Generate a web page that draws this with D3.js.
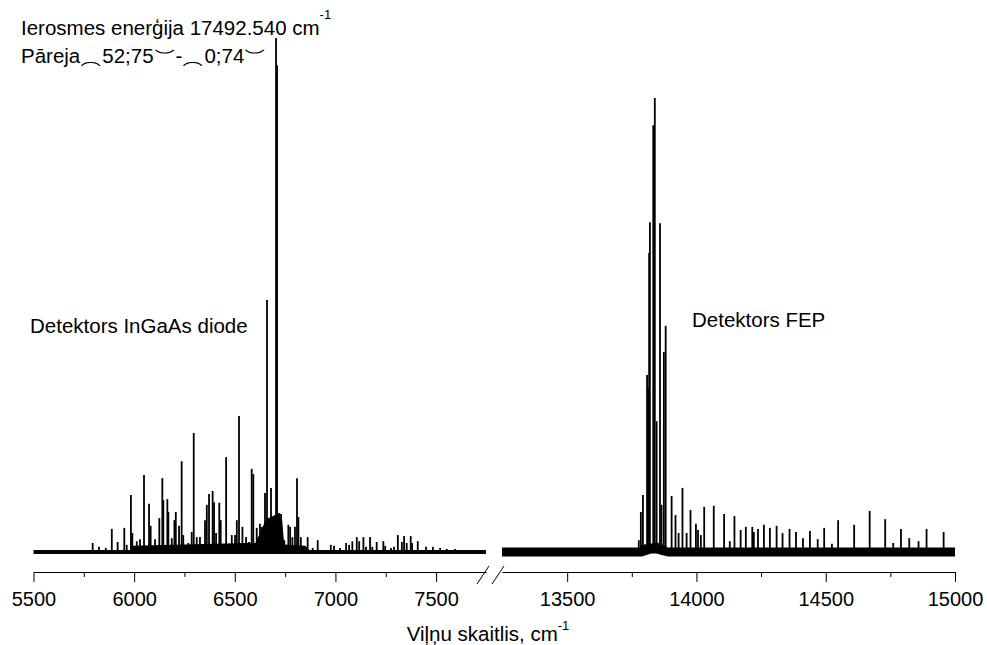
<!DOCTYPE html>
<html>
<head>
<meta charset="utf-8">
<script src="https://cdn.jsdelivr.net/npm/d3@7"></script>
<style>
  body { margin: 0; background: #fff; }
  text { font-family: "Liberation Sans", Arial, sans-serif; fill: #000; }
</style>
</head>
<body>
<div id="chart"></div>
<script>
// broken-axis spectrum, D3 v7

// === data (wavenumber cm-1, intensity arb. units) ===
const leftPeaks = [
  [5794, 1.75], [5825, 1.0], [5859, 0.8], [5889, 4.5], [5918, 1.95], [5951, 4.7], [5963, 1.4],
  [5984, 11.1], [5991, 3.7], [6013, 2.1], [6029, 2.5], [6049, 15.0], [6074, 9.4], [6082, 5.1],
  [6104, 2.5], [6125, 6.6], [6140, 14.4], [6145, 10.1], [6165, 10.3], [6170, 7.8], [6187, 2.7],
  [6200, 6.2], [6207, 7.8], [6223, 5.1], [6236, 17.7], [6244, 3.3], [6269, 1.75], [6286, 3.9],
  [6296, 23.2], [6311, 2.9], [6327, 2.9], [6352, 6.2], [6361, 9.2], [6372, 11.3], [6390, 11.9],
  [6397, 9.7], [6407, 3.7], [6423, 9.6], [6430, 6.2], [6457, 18.5], [6485, 3.3], [6501, 3.3],
  [6510, 6.2], [6521, 26.5], [6538, 4.9], [6556, 2.9], [6571, 1.95], [6584, 16.2], [6592, 15.2],
  [6609, 4.7], [6625, 5.5], [6634, 4.9], [6650, 11.5], [6660, 49.1], [6672, 6.2], [6680, 12.5],
  [6692, 5.8], [6705, 100.2], [6710, 94.9], [6713, 6.8], [6721, 7.6], [6730, 7.4], [6746, 2.3],
  [6766, 5.3], [6775, 4.9], [6786, 2.9], [6799, 4.9], [6809, 14.4], [6816, 6.8], [6828, 2.9],
  [6841, 1.0], [6862, 2.9], [6887, 0.8], [6912, 2.3], [6977, 1.4], [6993, 1.2], [7023, 0.8],
  [7053, 1.75], [7068, 1.4], [7084, 2.1], [7106, 2.9], [7118, 2.1], [7139, 2.9], [7152, 1.0],
  [7172, 2.9], [7183, 1.0], [7205, 1.95], [7238, 2.1], [7247, 1.2], [7276, 0.8], [7291, 1.0],
  [7310, 3.3], [7330, 1.95], [7341, 3.1], [7354, 1.75], [7374, 3.1], [7381, 1.75], [7409, 2.1],
  [7450, 1.0], [7484, 1.0], [7520, 0.8], [7553, 0.6], [7594, 0.6], [7634, 0.4]
];

const rightPeaks = [
  [13777, 2.3], [13785, 7.8], [13793, 11.1], [13809, 34.5], [13813, 32.0], [13817, 58.3],
  [13820, 64.3], [13833, 83.2], [13839, 88.5], [13846, 25.5], [13859, 64.1], [13865, 9.2],
  [13874, 39.0], [13881, 44.1], [13904, 10.9], [13919, 7.2], [13931, 3.7], [13946, 12.5],
  [13962, 3.7], [13977, 8.2], [13998, 5.5], [14006, 4.3], [14017, 3.3], [14030, 8.8],
  [14067, 9.0], [14107, 7.4], [14129, 2.1], [14147, 7.0], [14171, 4.3], [14191, 4.9],
  [14216, 4.9], [14222, 3.9], [14238, 4.5], [14261, 5.3], [14284, 4.7], [14310, 5.1],
  [14333, 3.7], [14360, 4.5], [14385, 3.9], [14412, 2.7], [14439, 4.1], [14469, 2.5],
  [14494, 4.7], [14524, 1.6], [14548, 6.2], [14610, 5.3], [14670, 8.0], [14730, 6.4],
  [14761, 1.75], [14791, 4.5], [14823, 2.7], [14859, 2.1], [14890, 4.5], [14956, 3.9]
];

// dense unresolved structure under the strongest lines
const leftHump = [[6598, 0], [6610, 2.5], [6630, 4], [6645, 5.5], [6660, 6.5], [6690, 7], [6715, 7.5], [6735, 6.5], [6742, 3], [6750, 0]];
const leftGrass = [[5975, 0], [5990, 1.2], [6300, 1.5], [6600, 1.8], [6850, 1.2], [6880, 0]];
const rightHump = [[13770, 0], [13790, 1.4], [13850, 1.8], [13880, 1.2], [13900, 0]];

// baselines with noise half-width
const leftBase = [[5500, 0], [7748, 0]];
const rightBase = [[13248, 0], [13790, 0], [13810, 0.35], [13825, 0.6], [13845, 0.6], [13865, 0.3], [13890, 0], [15000, 0]];
const leftNoise = 0.4, rightNoise = 0.9;

const leftTicks = [5500, 6000, 6500, 7000, 7500];
const leftMinor = [5750, 6250, 6750, 7250];
const rightTicks = [13500, 14000, 14500, 15000];
const rightMinor = [13750, 14250, 14750];

// transition label pieces (arcs are the tie glyphs of the original)
const transition = [
  { t: "Pāreja" },
  { t: "⁀", arc: "low" },
  { t: "52;75" },
  { t: "‿", arc: "high" },
  { t: "-" },
  { t: "⁀", arc: "low" },
  { t: "0;74" },
  { t: "‿", arc: "high" }
];

// === sizing ===
const W = 987, H = 645;
const axisY = 572;

const svg = d3.select("#chart").append("svg")
  .attr("width", W).attr("height", H);

const xL = d3.scaleLinear().domain([5500, 7748]).range([33.5, 486]);
const xR = d3.scaleLinear().domain([13248, 15000]).range([502, 955]);
const y = d3.scaleLinear().domain([0, 100]).range([552, 39]);

function drawSegment(x, peaks, base, noise, humps) {
  const g = svg.append("g");

  const band = d3.area()
    .x(d => x(d[0]))
    .y0(d => y(d[1] - noise))
    .y1(d => y(d[1] + noise));
  g.append("path").attr("d", band(base)).attr("fill", "#000");

  const hump = d3.area()
    .x(d => x(d[0]))
    .y0(y(0))
    .y1(d => y(d[1]));
  humps.forEach(h => g.append("path").attr("d", hump(h)).attr("fill", "#000"));

  g.selectAll("line.peak")
    .data(peaks)
    .join("line")
    .attr("class", "peak")
    .attr("x1", d => x(d[0])).attr("x2", d => x(d[0]))
    .attr("y1", y(0)).attr("y2", d => y(d[1]))
    .attr("stroke", "#000")
    .attr("stroke-width", 1.8);
}

drawSegment(xL, leftPeaks, leftBase, leftNoise, [leftGrass, leftHump]);
drawSegment(xR, rightPeaks, rightBase, rightNoise, [rightHump]);

// axes
function drawAxis(x, major, minor) {
  const g = svg.append("g").attr("transform", `translate(0,${axisY})`);
  g.call(d3.axisBottom(x).tickValues(major).tickSize(10).tickSizeOuter(0).tickPadding(10).tickFormat(d3.format("d")))
    .call(a => a.selectAll("text").attr("font-size", 20).attr("font-family", null))
    .call(a => a.selectAll("line, path").attr("stroke", "#000"));
  g.append("g")
    .call(d3.axisBottom(x).tickValues(minor).tickSize(5).tickFormat(""))
    .call(a => a.select(".domain").remove())
    .call(a => a.selectAll("line").attr("stroke", "#000"));
}
drawAxis(xL, leftTicks, leftMinor);
drawAxis(xR, rightTicks, rightMinor);

// break marks
[[477, 489], [492, 504]].forEach(([a, b]) => {
  svg.append("line")
    .attr("x1", a).attr("y1", 584).attr("x2", b).attr("y2", 566)
    .attr("stroke", "#000").attr("stroke-width", 1);
});

// labels
const title = svg.append("text").attr("x", 488).attr("y", 641)
  .attr("text-anchor", "middle").attr("font-size", 20.5);
title.append("tspan").text("Viļņu skaitlis, cm");
title.append("tspan").attr("dy", -11).attr("font-size", 13).text("-1");

const ann1 = svg.append("text").attr("x", 21).attr("y", 35).attr("font-size", 20.5);
ann1.append("tspan").text("Ierosmes enerģija 17492.540 cm");
ann1.append("tspan").attr("dy", -16).attr("font-size", 13).text("-1");

let cx = 21;
transition.forEach(p => {
  const yy = p.arc === "low" ? 77 : p.arc === "high" ? 49 : 63;
  const t = svg.append("text").attr("x", cx).attr("y", yy)
    .attr("font-size", p.arc ? 19 : 20.5).text(p.t);
  if (p.arc) t.attr("textLength", 22).attr("lengthAdjust", "spacingAndGlyphs");
  cx += p.arc ? 22 : t.node().getComputedTextLength();
});

svg.append("text").attr("x", 30).attr("y", 333).attr("font-size", 20.5)
  .text("Detektors InGaAs diode");
svg.append("text").attr("x", 692).attr("y", 327).attr("font-size", 20.5)
  .text("Detektors FEP");
</script>
</body>
</html>
